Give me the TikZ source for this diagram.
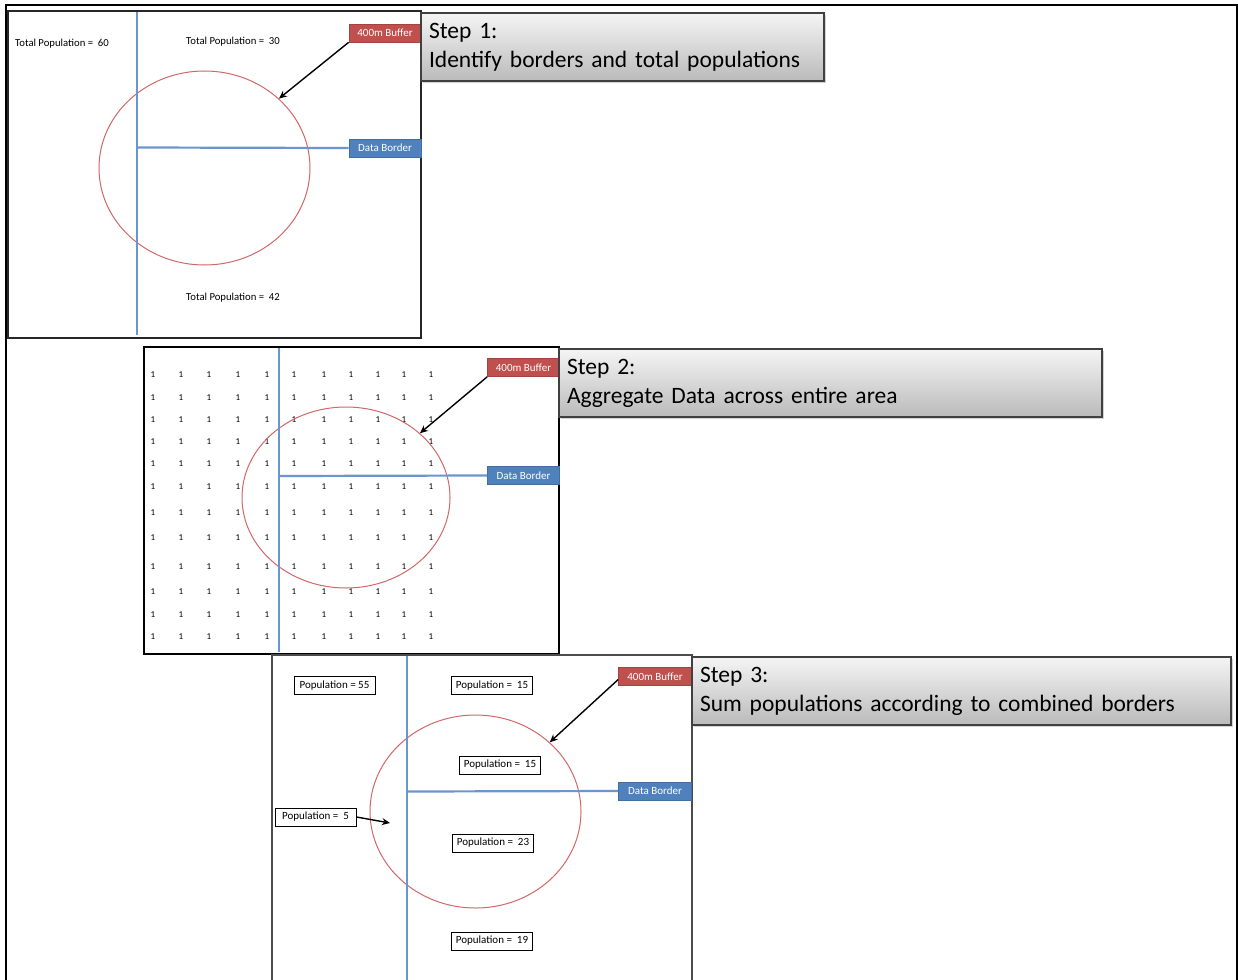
\documentclass[tikz,border=0pt]{standalone}
\usepackage{fontspec}
\setmainfont{Carlito}
\usetikzlibrary{shapes.geometric,arrows.meta,shadows}
\definecolor{offred}{HTML}{C0504D}
\definecolor{offblue}{HTML}{4F81BD}
\definecolor{lineblue}{HTML}{6A96CF}
\definecolor{circred}{HTML}{D06868}
\begin{document}
\begin{tikzpicture}[x=1pt,y=-1pt,
  lab/.style={text=white, font=\fontsize{11}{12}\selectfont, minimum width=72pt, minimum height=18pt, inner sep=0pt},
  redlab/.style={lab, fill=offred, draw=offred!85!black, line width=0.6pt},
  bluelab/.style={lab, fill=offblue, draw=offblue!85!black, line width=0.6pt},
  border/.style={draw=lineblue, line width=2.2pt},
  buffer/.style={ellipse, draw=circred, line width=1pt, inner sep=0pt},
  panel/.style={draw=black!85, line width=1.5pt},
  stepbox/.style={draw=black!75, line width=1.2pt, top color=black!4, bottom color=black!27,
    drop shadow={opacity=0.35, shadow xshift=2pt, shadow yshift=-2pt},
    font=\fontsize{23.5}{29}\selectfont, align=left, inner xsep=8pt, inner ysep=0pt},
  tot/.style={font=\fontsize{10.7}{12}\selectfont, inner sep=0pt},
  popbox/.style={draw=black, line width=1pt, font=\fontsize{11}{12}\selectfont, minimum width=81pt, minimum height=18pt, inner sep=0pt},
  one/.style={font=\fontsize{9}{10}\selectfont, inner sep=0pt},
  arr/.style={draw=black, line width=1.4pt, -{Stealth[length=8pt,width=7pt]}}
]
\useasboundingbox (0,0) rectangle (1238,979);
% outer frame
\draw[line width=2.5pt] (6,985) -- (6,5) -- (1237,5) -- (1237,985);

% ---------------- Panel 1 ----------------
\draw[panel, fill=white] (8,11) rectangle (421,338);
\node[buffer, minimum width=211pt, minimum height=194pt] (c1) at (204.5,168) {};
\coordinate (v1t) at (137,12);
\coordinate (v1b) at (137,335);
\coordinate (h1) at (137,147.5);
\draw[border] (v1t) -- (v1b);
\node[redlab] (buf1) at (385,33) {400m Buffer};
\node[bluelab] (db1) at (385,148) {Data Border};
\draw[border] (h1) -- (db1.west);
\draw[arr] (buf1.south west) -- (c1.43);
\node[tot] (t60) at (62,44) {Total Population = ~60};
\node[tot] (t30) at (233,42) {Total Population = ~30};
\node[tot] (t42) at (233,298) {Total Population = ~42};
\node[stepbox, minimum width=403pt, minimum height=68pt, text width=387pt] (s1) at (622.5,47) {Step 1:\\Identify borders and total populations};

% ---------------- Panel 2 ----------------
\draw[draw=black, line width=1.5pt, fill=white] (144,347) rectangle (559,654);
\foreach \y [count=\i] in {375,398,420,442,464,487,513,538,567,592,615,637}{
  \foreach \x [count=\j] in {153,181,209,238,267,294,324,351,378,404,431}{
    \node[one] (g-\i-\j) at (\x,\y) {1};
  }
}
\node[buffer, minimum width=208pt, minimum height=181pt] (c2) at (346,497.5) {};
\coordinate (v2t) at (279,348);
\coordinate (v2b) at (279,652);
\coordinate (h2) at (279,476);
\draw[border] (v2t) -- (v2b);
\node[redlab] (buf2) at (523.5,367.5) {400m Buffer};
\node[bluelab] (db2) at (523.5,475.5) {Data Border};
\draw[border] (h2) -- (db2.west);
\draw[arr] (buf2.south west) -- (c2.41);
\node[stepbox, minimum width=543pt, minimum height=68pt, text width=527pt] (s2) at (830.5,383) {Step 2:\\Aggregate Data across entire area};

% ---------------- Panel 3 ----------------
\draw[draw=black!70, line width=1.5pt, fill=white] (272,655) rectangle (692,995);
\node[buffer, minimum width=211pt, minimum height=193pt] (c3) at (475.5,811.5) {};
\coordinate (v3t) at (407,656);
\coordinate (v3b) at (407,985);
\coordinate (h3) at (407,791.5);
\draw[border] (v3t) -- (v3b);
\node[redlab, minimum width=73pt] (buf3) at (655,676.5) {400m Buffer};
\node[bluelab, minimum width=73pt] (db3) at (655,791) {Data Border};
\draw[border] (h3) -- (db3.west);
\draw[arr] ([yshift=-3pt]buf3.west) -- (c3.43);
\node[popbox] (p55) at (334.5,685.5) {Population = 55};
\node[popbox] (p15a) at (492,685.5) {Population = ~15};
\node[popbox] (p15b) at (500,765) {Population = ~15};
\node[popbox] (p5) at (315.5,817) {Population = ~5};
\node[popbox] (p23) at (493,843) {Population = ~23};
\node[popbox] (p19) at (492,941) {Population = ~19};
\coordinate (p5tip) at (390,823);
\draw[arr] (p5.east) -- (p5tip);
\node[stepbox, minimum width=539pt, minimum height=68pt, text width=523pt] (s3) at (961.5,691) {Step 3:\\Sum populations according to combined borders};
\end{tikzpicture}
\end{document}
